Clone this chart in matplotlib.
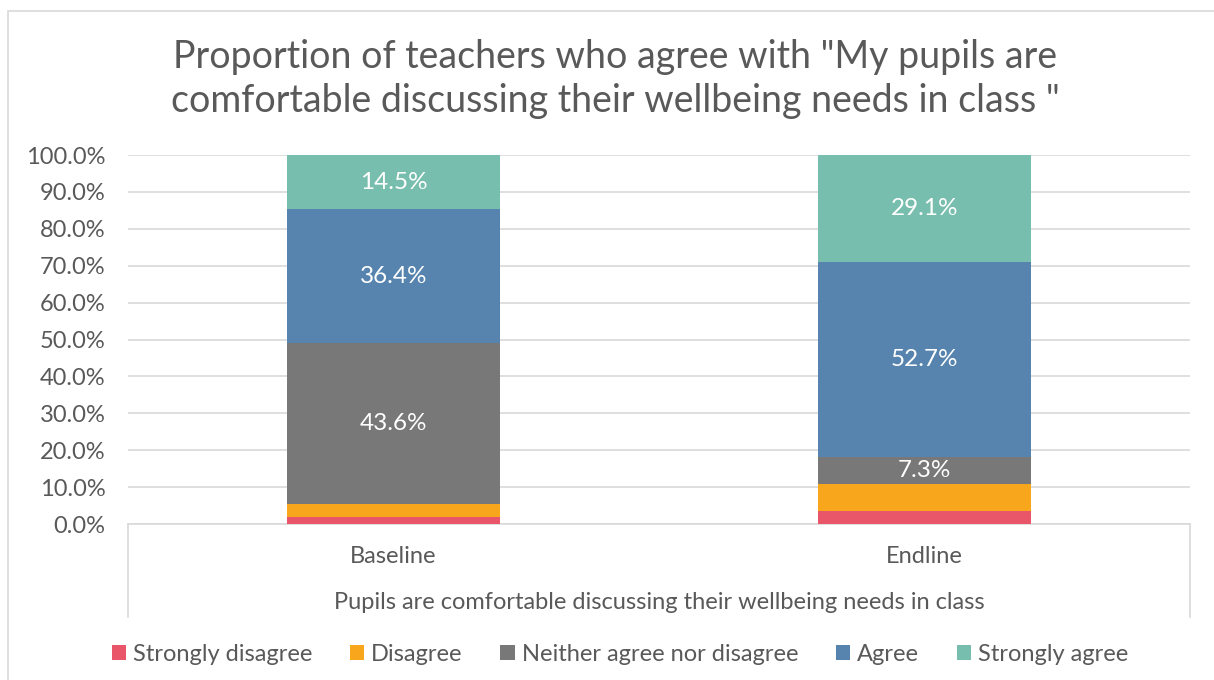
import numpy as np
import matplotlib
matplotlib.use("Agg")
import matplotlib.pyplot as plt
from matplotlib.patches import Rectangle

plt.rcParams['font.family'] = ['Lato', 'DejaVu Sans']

# survey responses, share of teachers (%)
groups = ["Baseline", "Endline"]
responses = ["Strongly disagree", "Disagree", "Neither agree nor disagree",
             "Agree", "Strongly agree"]
baseline = [1.8, 3.6, 43.6, 36.4, 14.5]
endline = [3.6, 7.3, 7.3, 52.7, 29.1]
colors = ["#E9566A", "#F8A61B", "#787878", "#5684AE", "#78BEAE"]
# only the larger segments carry a value label
show_label = [False, False, True, True, True]

txt = "#595959"
grid = "#D9D9D9"

fig = plt.figure(figsize=(12.14, 6.8), dpi=100)
fig.patches.append(Rectangle((8 / 1214, -0.1), 1.2, 1 - 11 / 680 + 0.1,
                             transform=fig.transFigure, fill=False,
                             edgecolor=grid, linewidth=1.2))

ax = fig.add_axes([0.1054, 0.2294, 0.8748, 0.5426])

x = np.arange(len(groups))
data = np.array([baseline, endline])
bottom = np.zeros(len(groups))
for i, name in enumerate(responses):
    vals = data[:, i]
    ax.bar(x, vals, width=0.4, bottom=bottom, color=colors[i], label=name,
           zorder=3)
    if show_label[i]:
        for xi, v, b in zip(x, vals, bottom):
            ax.text(xi, b + v / 2, f"{v:.1f}%", ha="center", va="center",
                    color="white", fontsize=17.5, zorder=4)
    bottom += vals

ax.set_xlim(-0.5, 1.5)
ax.set_ylim(0, 100)
ax.set_yticks(np.arange(0, 101, 10))
ax.set_yticklabels([f"{v:.1f}%" for v in np.arange(0, 101, 10)])
ax.yaxis.grid(True, color=grid, linewidth=1.2, zorder=0)
ax.tick_params(axis="y", length=0, labelsize=17, labelcolor=txt, pad=16)
ax.set_xticks([])
for s in ["top", "right", "left"]:
    ax.spines[s].set_visible(False)
ax.spines["bottom"].set_color(grid)
ax.spines["bottom"].set_linewidth(1.2)

# category axis frame and labels
for xe in (0, 1):
    ax.plot([xe, xe], [0, -0.252], transform=ax.transAxes, color=grid,
            linewidth=1.2, clip_on=False)
for xi, g in zip(x, groups):
    ax.text(xi, -0.0894, g, transform=ax.get_xaxis_transform(), ha="center",
            va="center", fontsize=17, color=txt)
ax.text(0.5, -0.214, "Pupils are comfortable discussing their wellbeing needs in class",
        transform=ax.transAxes, ha="center", va="center", fontsize=17, color=txt)

fig.text(615 / 1214, 1 - 79 / 680,
         "Proportion of teachers who agree with \"My pupils are\n"
         "comfortable discussing their wellbeing needs in class \"",
         ha="center", va="center", fontsize=27, color=txt, linespacing=1.25)

fig.legend(loc="center", bbox_to_anchor=(620 / 1214, 0.038), ncol=5, frameon=False,
           fontsize=17, labelcolor=txt, handlelength=0.6, handleheight=0.6,
           handletextpad=0.3, columnspacing=1.6)

fig.savefig("out.png", dpi=100)
